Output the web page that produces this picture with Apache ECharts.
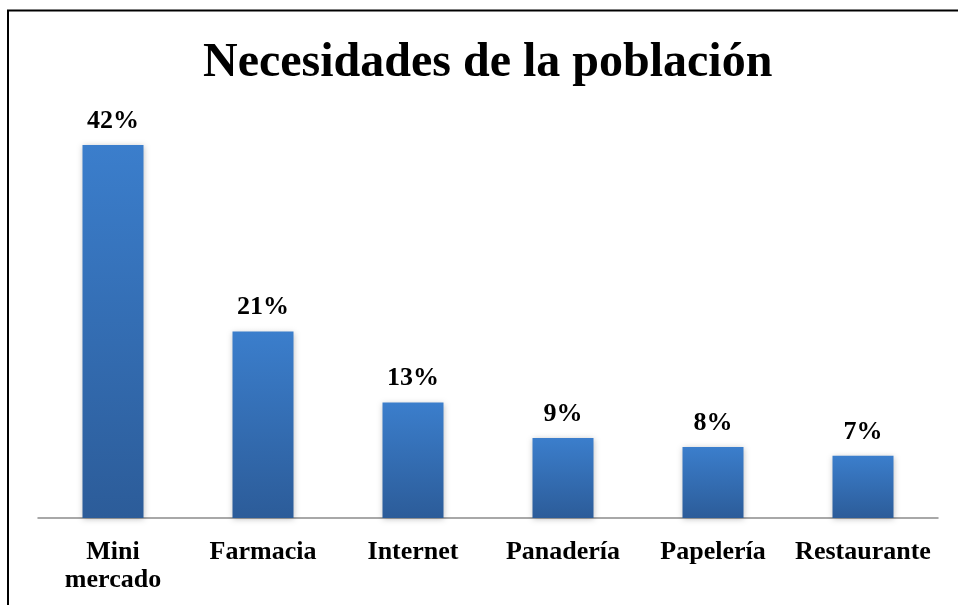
<!DOCTYPE html>
<html>
<head>
<meta charset="utf-8">
<script src="https://cdn.jsdelivr.net/npm/echarts@6/dist/echarts.min.js"></script>
<style>
  html, body { margin: 0; padding: 0; background: #fff; }
  #chart { width: 958px; height: 605px; }
</style>
</head>
<body>
<div id="chart"></div>
<script>
const categories = ['Mini\nmercado', 'Farmacia', 'Internet', 'Panadería', 'Papelería', 'Restaurante'];
const percentages = [42, 21, 13, 9, 8, 7];
const titleText = 'Necesidades de la población';

const serif = '"Liberation Serif", "Times New Roman", serif';

const chart = echarts.init(document.getElementById('chart'), null, { renderer: 'canvas' });

chart.setOption({
  backgroundColor: '#ffffff',
  animation: false,
  title: {
    text: titleText,
    left: 198,
    top: 35,
    textStyle: { fontFamily: serif, fontWeight: 'bold', fontSize: 48, color: '#000' }
  },
  grid: { left: 38, right: 20, top: 145, bottom: 87, containLabel: false },
  xAxis: {
    type: 'category',
    data: categories,
    axisTick: { show: false },
    axisLine: { lineStyle: { color: '#8c8c8c', width: 1.5 } },
    axisLabel: {
      interval: 0,
      margin: 20,
      fontFamily: serif,
      fontWeight: 'bold',
      fontSize: 26,
      lineHeight: 28,
      color: '#000'
    }
  },
  yAxis: {
    type: 'value',
    min: 0,
    max: 42,
    show: false
  },
  series: [{
    type: 'bar',
    data: percentages,
    barWidth: 61,
    itemStyle: {
      color: new echarts.graphic.LinearGradient(0, 0, 0, 1, [
        { offset: 0, color: '#3b7ecc' },
        { offset: 1, color: '#2c5c99' }
      ]),
      shadowColor: 'rgba(0,0,0,0.25)',
      shadowBlur: 6,
      shadowOffsetX: 0,
      shadowOffsetY: 1
    },
    label: {
      show: true,
      position: 'top',
      distance: 11,
      formatter: '{c}%',
      fontFamily: serif,
      fontWeight: 'bold',
      fontSize: 26,
      color: '#000'
    }
  }],
  graphic: [
    { type: 'line', shape: { x1: 7, y1: 10.5, x2: 958, y2: 10.5 }, style: { stroke: '#000', lineWidth: 2 } },
    { type: 'line', shape: { x1: 8, y1: 10, x2: 8, y2: 605 }, style: { stroke: '#000', lineWidth: 2 } }
  ]
});
</script>
</body>
</html>
